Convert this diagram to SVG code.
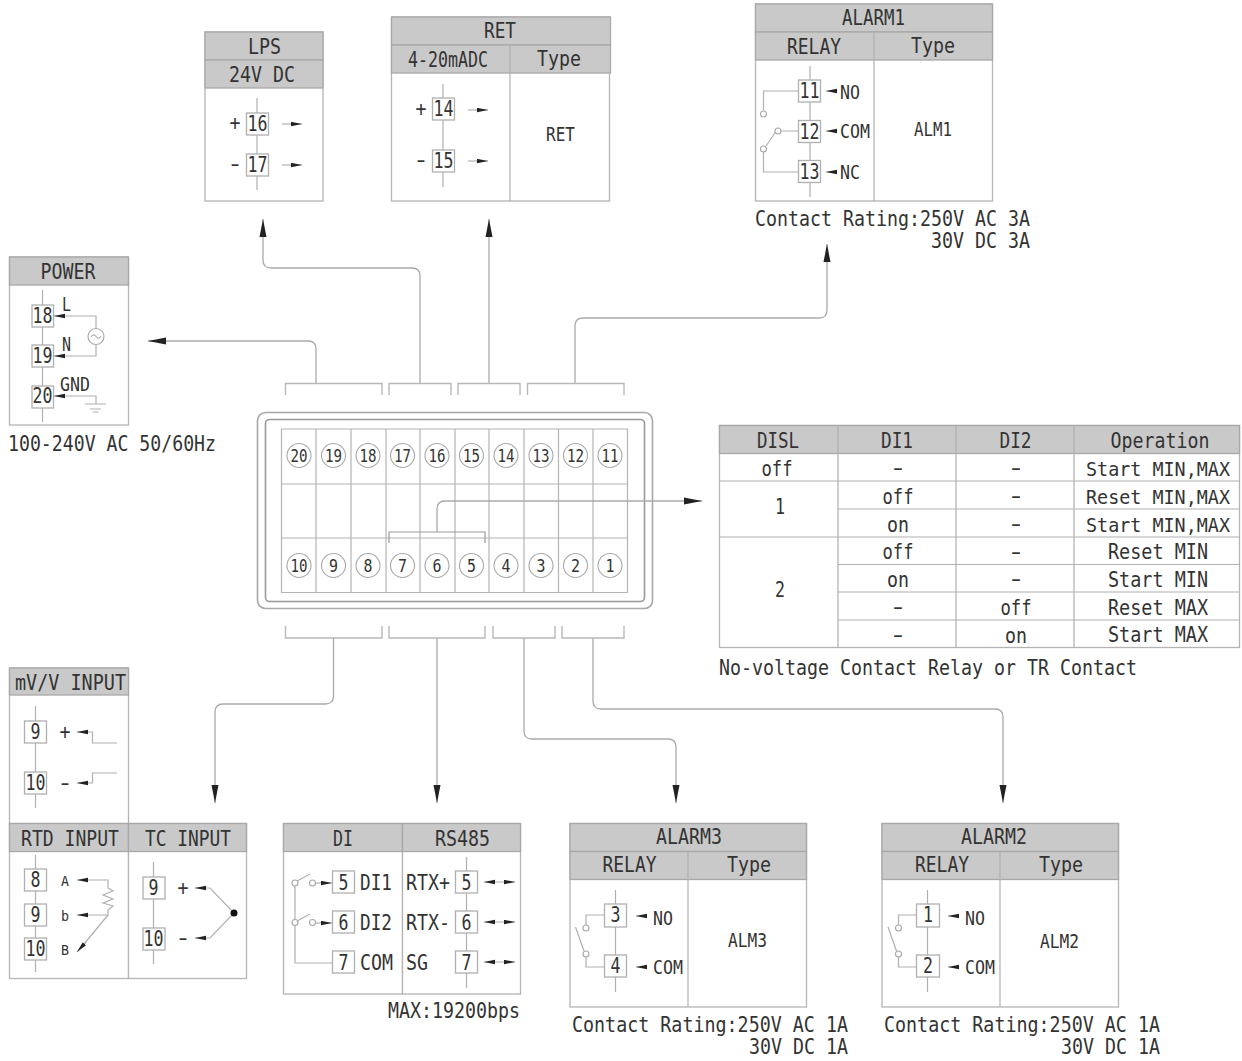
<svg xmlns="http://www.w3.org/2000/svg" width="1242" height="1061" viewBox="0 0 1242 1061">
<style>
text{font-family:"DejaVu Sans Mono","Liberation Mono",monospace;font-size:21px;fill:#333;text-anchor:middle}
.s{font-size:19px}
.xs{font-size:14px}
.pn{font-size:17px}
.op{font-size:20px}
.l{text-anchor:start}
.e{text-anchor:end}
.box{fill:#fff;stroke:#b4b4b4;stroke-width:1.3}
.hd{fill:#c9c9c9;stroke:#a8a8a8;stroke-width:1.3}
.w{fill:none;stroke:#b0b0b0;stroke-width:1.2}
.tm{fill:#fff;stroke:#b0b0b0;stroke-width:1.3}
.a{fill:none;stroke:#b0b0b0;stroke-width:1.2;marker-end:url(#sa)}
.ca{fill:none;stroke:#aaa;stroke-width:1.3;marker-end:url(#ba)}
.br{fill:none;stroke:#b8b8b8;stroke-width:1.4}
.o{fill:#fff;stroke:#a8a8a8;stroke-width:1.1}
</style>
<defs>
<marker id="ba" markerUnits="userSpaceOnUse" markerWidth="20" markerHeight="10" refX="18" refY="4" orient="auto"><path d="M0 0.5 L18 4 L0 7.5Z" fill="#222"/></marker>
<marker id="sa" markerUnits="userSpaceOnUse" markerWidth="12" markerHeight="6" refX="11" refY="2.5" orient="auto"><path d="M0 0.3 L11 2.5 L0 4.7Z" fill="#222"/></marker>
</defs>

<g id="panel">
<rect x="257.500" y="412.500" width="395" height="196" rx="8" fill="#fff" stroke="#a8a8a8" stroke-width="1.6"/>
<rect x="265.500" y="419.500" width="379" height="182" rx="4" fill="#fff" stroke="#989898" stroke-width="1.6"/>
<path class="w" style="stroke:#b4b4b4" d="M281.500 429H627.500V592.500H281.500ZM316 429V592.500M351 429V592.500M386 429V592.500M420 429V592.500M455 429V592.500M489 429V592.500M524 429V592.500M558.500 429V592.500M593 429V592.500M281.500 484H627.500M281.500 538H627.500"/>
<path class="w" style="stroke:#999" d="M389 543V532H485V543"/>
<g id="pins-top">
<circle class="o" cx="299" cy="455.500" r="12"/><circle class="o" cx="333.500" cy="455.500" r="12"/><circle class="o" cx="368" cy="455.500" r="12"/><circle class="o" cx="402.500" cy="455.500" r="12"/><circle class="o" cx="437" cy="455.500" r="12"/><circle class="o" cx="471.500" cy="455.500" r="12"/><circle class="o" cx="506" cy="455.500" r="12"/><circle class="o" cx="541" cy="455.500" r="12"/><circle class="o" cx="575.500" cy="455.500" r="12"/><circle class="o" cx="610" cy="455.500" r="12"/>
<text class="pn" x="299" y="462" textLength="17" lengthAdjust="spacingAndGlyphs">20</text>
<text class="pn" x="333.500" y="462" textLength="17" lengthAdjust="spacingAndGlyphs">19</text>
<text class="pn" x="368" y="462" textLength="17" lengthAdjust="spacingAndGlyphs">18</text>
<text class="pn" x="402.500" y="462" textLength="17" lengthAdjust="spacingAndGlyphs">17</text>
<text class="pn" x="437" y="462" textLength="17" lengthAdjust="spacingAndGlyphs">16</text>
<text class="pn" x="471.500" y="462" textLength="17" lengthAdjust="spacingAndGlyphs">15</text>
<text class="pn" x="506" y="462" textLength="17" lengthAdjust="spacingAndGlyphs">14</text>
<text class="pn" x="541" y="462" textLength="17" lengthAdjust="spacingAndGlyphs">13</text>
<text class="pn" x="575.500" y="462" textLength="17" lengthAdjust="spacingAndGlyphs">12</text>
<text class="pn" x="610" y="462" textLength="17" lengthAdjust="spacingAndGlyphs">11</text>
</g>
<g id="pins-bottom">
<circle class="o" cx="299" cy="565.500" r="12"/><circle class="o" cx="333.500" cy="565.500" r="12"/><circle class="o" cx="368" cy="565.500" r="12"/><circle class="o" cx="402.500" cy="565.500" r="12"/><circle class="o" cx="437" cy="565.500" r="12"/><circle class="o" cx="471.500" cy="565.500" r="12"/><circle class="o" cx="506" cy="565.500" r="12"/><circle class="o" cx="541" cy="565.500" r="12"/><circle class="o" cx="575.500" cy="565.500" r="12"/><circle class="o" cx="610" cy="565.500" r="12"/>
<text class="pn" x="299" y="572" textLength="17" lengthAdjust="spacingAndGlyphs">10</text>
<text class="pn" x="333.500" y="572" textLength="9" lengthAdjust="spacingAndGlyphs">9</text>
<text class="pn" x="368" y="572" textLength="9" lengthAdjust="spacingAndGlyphs">8</text>
<text class="pn" x="402.500" y="572" textLength="9" lengthAdjust="spacingAndGlyphs">7</text>
<text class="pn" x="437" y="572" textLength="9" lengthAdjust="spacingAndGlyphs">6</text>
<text class="pn" x="471.500" y="572" textLength="9" lengthAdjust="spacingAndGlyphs">5</text>
<text class="pn" x="506" y="572" textLength="9" lengthAdjust="spacingAndGlyphs">4</text>
<text class="pn" x="541" y="572" textLength="9" lengthAdjust="spacingAndGlyphs">3</text>
<text class="pn" x="575.500" y="572" textLength="9" lengthAdjust="spacingAndGlyphs">2</text>
<text class="pn" x="610" y="572" textLength="9" lengthAdjust="spacingAndGlyphs">1</text>
</g>
</g>

<g id="connectors">
<path class="ca" d="M316 383V349Q316 341 308 341H148"/>
<path class="ca" d="M420 383V276Q420 268 412 268H271Q263 268 263 260V219"/>
<path class="ca" d="M489 383V219"/>
<path class="ca" d="M575 383V326Q575 318 583 318H819Q827 318 827 310V244"/>
<path class="ca" d="M437 532V509Q437 501 445 501H702"/>
<path class="ca" d="M333.500 638V696Q333.500 704 325 704H223Q215 704 215 712V803"/>
<path class="ca" d="M437 638V803"/>
<path class="ca" d="M524 638V731Q524 739 532 739H668Q676 739 676 747V803"/>
<path class="ca" d="M593 638V701Q593 709 601 709H995Q1003 709 1003 717V803"/>
<path class="br" d="M285.500 395V383.500H382V395M389 395V383.500H451V395M458 395V383.500H520V395M527.500 395V383.500H624V395"/>
<path class="br" d="M285.500 626V638H382V626M389 626V638H485V626M493 626V638H555V626M562 626V638H624V626"/>
</g>

<g id="lps">
<rect class="box" x="205" y="32" width="118" height="169"/>
<rect class="hd" x="205" y="32" width="118" height="28"/><rect class="hd" x="205" y="60" width="118" height="28"/>
<text x="264.500" y="54" textLength="33" lengthAdjust="spacingAndGlyphs">LPS</text>
<text x="262" y="82" textLength="66" lengthAdjust="spacingAndGlyphs">24V DC</text>
<path class="w" d="M257 98V190"/>
<rect class="tm" x="246.500" y="113" width="22" height="22"/><rect class="tm" x="246.500" y="154" width="22" height="22"/>
<text x="257.500" y="131" textLength="20" lengthAdjust="spacingAndGlyphs">16</text>
<text x="257.500" y="172" textLength="20" lengthAdjust="spacingAndGlyphs">17</text>
<text x="235" y="130" textLength="11" lengthAdjust="spacingAndGlyphs">+</text>
<text x="235" y="171" textLength="16" lengthAdjust="spacingAndGlyphs">-</text>
<path class="a" d="M282 124H302"/><path class="a" d="M282 165H302"/>
</g>

<g id="ret">
<rect class="box" x="391.500" y="17" width="218" height="184"/>
<rect class="hd" x="391.500" y="17" width="219" height="28"/><rect class="hd" x="391.500" y="45" width="219" height="28"/>
<path class="w" d="M510 45V201"/>
<text x="500" y="38" textLength="32" lengthAdjust="spacingAndGlyphs">RET</text>
<text x="448" y="67" textLength="80" lengthAdjust="spacingAndGlyphs">4-20mADC</text>
<text x="559" y="66" textLength="44" lengthAdjust="spacingAndGlyphs">Type</text>
<path class="w" d="M443 84V187"/>
<rect class="tm" x="432.500" y="98" width="22" height="22"/><rect class="tm" x="432.500" y="150" width="22" height="22"/>
<text x="443.500" y="116" textLength="20" lengthAdjust="spacingAndGlyphs">14</text>
<text x="443.500" y="168" textLength="20" lengthAdjust="spacingAndGlyphs">15</text>
<text x="421" y="116" textLength="11" lengthAdjust="spacingAndGlyphs">+</text>
<text x="421" y="167" textLength="16" lengthAdjust="spacingAndGlyphs">-</text>
<path class="a" d="M468 110H488"/><path class="a" d="M468 161H488"/>
<text class="s" x="560.500" y="141" textLength="29" lengthAdjust="spacingAndGlyphs">RET</text>
</g>

<g id="alarm1">
<rect class="box" x="755.500" y="4" width="237" height="197"/>
<rect class="hd" x="755.500" y="4" width="237" height="28"/><rect class="hd" x="755.500" y="32" width="237" height="28"/>
<path class="w" d="M874 32V201"/>
<text x="873.500" y="25" textLength="63" lengthAdjust="spacingAndGlyphs">ALARM1</text>
<text x="814" y="54" textLength="54" lengthAdjust="spacingAndGlyphs">RELAY</text>
<text x="933" y="53" textLength="44" lengthAdjust="spacingAndGlyphs">Type</text>
<path class="w" d="M810 66V197M798 91H763.500V110M798 131H781M775 133L766 146M763.500 152V172H798"/>
<circle class="o" cx="763.500" cy="114" r="3"/><circle class="o" cx="778" cy="131" r="3"/><circle class="o" cx="763.500" cy="149" r="3"/>
<rect class="tm" x="798.500" y="80" width="22" height="22"/><rect class="tm" x="798.500" y="120.500" width="22" height="22"/><rect class="tm" x="798.500" y="160.500" width="22" height="22"/>
<text x="809.500" y="98" textLength="20" lengthAdjust="spacingAndGlyphs">11</text>
<text x="809.500" y="139" textLength="20" lengthAdjust="spacingAndGlyphs">12</text>
<text x="809.500" y="179" textLength="20" lengthAdjust="spacingAndGlyphs">13</text>
<path class="a" d="M836 91H826"/><path class="a" d="M836 131H826"/><path class="a" d="M836 172H826"/>
<text class="s l" x="840" y="99" textLength="20" lengthAdjust="spacingAndGlyphs">NO</text>
<text class="s l" x="840" y="138" textLength="30" lengthAdjust="spacingAndGlyphs">COM</text>
<text class="s l" x="840" y="179" textLength="20" lengthAdjust="spacingAndGlyphs">NC</text>
<text class="s" x="933" y="136" textLength="38" lengthAdjust="spacingAndGlyphs">ALM1</text>
<text class="l" x="755" y="226" textLength="275" lengthAdjust="spacingAndGlyphs">Contact Rating:250V AC 3A</text>
<text class="e" x="1030" y="248" textLength="99" lengthAdjust="spacingAndGlyphs">30V DC 3A</text>
</g>

<g id="power">
<rect class="box" x="9.500" y="257" width="119" height="168"/>
<rect class="hd" x="9.500" y="257" width="119" height="28"/>
<text x="68" y="279" textLength="55" lengthAdjust="spacingAndGlyphs">POWER</text>
<path class="w" d="M42.500 290V422M64 316H96V329M96 344V356H64M64 396H96V404M85 404H106M90 409H101M92.500 412H98.500"/>
<circle cx="96" cy="336.500" r="8" fill="#fff" stroke="#aaa" stroke-width="1.2"/>
<path class="w" d="M91 337Q93.500 333 96 336.500T101 336"/>
<path class="a" d="M64 316H54"/><path class="a" d="M64 356H54"/><path class="a" d="M64 396H54"/>
<rect class="tm" x="32" y="305" width="21.500" height="22"/><rect class="tm" x="32" y="345" width="21.500" height="22"/><rect class="tm" x="32" y="386" width="21.500" height="22"/>
<text x="42.500" y="323" textLength="20" lengthAdjust="spacingAndGlyphs">18</text>
<text x="42.500" y="363" textLength="20" lengthAdjust="spacingAndGlyphs">19</text>
<text x="42.500" y="403" textLength="20" lengthAdjust="spacingAndGlyphs">20</text>
<text class="s l" x="62" y="311" textLength="9" lengthAdjust="spacingAndGlyphs">L</text>
<text class="s l" x="62" y="351" textLength="9" lengthAdjust="spacingAndGlyphs">N</text>
<text class="s l" x="60" y="391" textLength="30" lengthAdjust="spacingAndGlyphs">GND</text>
<text class="l" x="8" y="451" textLength="208" lengthAdjust="spacingAndGlyphs">100-240V AC 50/60Hz</text>
</g>

<g id="disl-table">
<rect class="box" x="719.500" y="425.500" width="520" height="222"/>
<rect class="hd" x="719.500" y="425.500" width="520" height="28"/>
<path class="w" d="M838 425.500V647.500M956 425.500V647.500M1074 425.500V647.500M719.500 481H1239.500M838 509H1239.500M719.500 537H1239.500M838 564.500H1239.500M838 592H1239.500M838 620H1239.500"/>
<text x="778" y="448" textLength="42" lengthAdjust="spacingAndGlyphs">DISL</text>
<text x="897" y="448" textLength="32" lengthAdjust="spacingAndGlyphs">DI1</text>
<text x="1015.500" y="448" textLength="32" lengthAdjust="spacingAndGlyphs">DI2</text>
<text x="1160" y="448" textLength="99" lengthAdjust="spacingAndGlyphs">Operation</text>
<text x="777" y="476" textLength="31" lengthAdjust="spacingAndGlyphs">off</text>
<text x="898" y="475" textLength="18" lengthAdjust="spacingAndGlyphs">-</text>
<text x="1016" y="475" textLength="18" lengthAdjust="spacingAndGlyphs">-</text>
<text class="op" x="1158" y="476" textLength="144" lengthAdjust="spacingAndGlyphs">Start MIN,MAX</text>
<text x="780" y="514" textLength="10" lengthAdjust="spacingAndGlyphs">1</text>
<text x="898" y="504" textLength="31" lengthAdjust="spacingAndGlyphs">off</text>
<text x="1016" y="503" textLength="18" lengthAdjust="spacingAndGlyphs">-</text>
<text class="op" x="1158" y="504" textLength="144" lengthAdjust="spacingAndGlyphs">Reset MIN,MAX</text>
<text x="898" y="532" textLength="22" lengthAdjust="spacingAndGlyphs">on</text>
<text x="1016" y="531" textLength="18" lengthAdjust="spacingAndGlyphs">-</text>
<text class="op" x="1158" y="532" textLength="144" lengthAdjust="spacingAndGlyphs">Start MIN,MAX</text>
<text x="780" y="597" textLength="10" lengthAdjust="spacingAndGlyphs">2</text>
<text x="898" y="559" textLength="31" lengthAdjust="spacingAndGlyphs">off</text>
<text x="1016" y="559" textLength="18" lengthAdjust="spacingAndGlyphs">-</text>
<text x="1158" y="559" textLength="100" lengthAdjust="spacingAndGlyphs">Reset MIN</text>
<text x="898" y="587" textLength="22" lengthAdjust="spacingAndGlyphs">on</text>
<text x="1016" y="586" textLength="18" lengthAdjust="spacingAndGlyphs">-</text>
<text x="1158" y="587" textLength="100" lengthAdjust="spacingAndGlyphs">Start MIN</text>
<text x="898" y="614" textLength="18" lengthAdjust="spacingAndGlyphs">-</text>
<text x="1016" y="615" textLength="31" lengthAdjust="spacingAndGlyphs">off</text>
<text x="1158" y="615" textLength="100" lengthAdjust="spacingAndGlyphs">Reset MAX</text>
<text x="898" y="642" textLength="18" lengthAdjust="spacingAndGlyphs">-</text>
<text x="1016" y="643" textLength="22" lengthAdjust="spacingAndGlyphs">on</text>
<text x="1158" y="642" textLength="100" lengthAdjust="spacingAndGlyphs">Start MAX</text>
<text class="l" x="719" y="675" textLength="418" lengthAdjust="spacingAndGlyphs">No-voltage Contact Relay or TR Contact</text>
</g>

<g id="mv-input">
<rect class="box" x="9.500" y="668" width="119" height="156"/>
<rect class="hd" x="9.500" y="668" width="119" height="27"/>
<text x="70.500" y="690" textLength="111" lengthAdjust="spacingAndGlyphs">mV/V INPUT</text>
<path class="w" d="M35.500 706V808M87 732H92.500V743H117M87 783H92.500V773H117"/>
<rect class="tm" x="24.500" y="721" width="22" height="22"/><rect class="tm" x="24.500" y="772" width="22" height="22"/>
<text x="35.500" y="739" textLength="10" lengthAdjust="spacingAndGlyphs">9</text>
<text x="35.500" y="790" textLength="20" lengthAdjust="spacingAndGlyphs">10</text>
<text x="65" y="739" textLength="11" lengthAdjust="spacingAndGlyphs">+</text>
<text x="65" y="790" textLength="16" lengthAdjust="spacingAndGlyphs">-</text>
<path class="a" d="M87 732H77"/><path class="a" d="M87 783H77"/>
</g>

<g id="rtd-input">
<rect class="box" x="9.500" y="823.500" width="119" height="155"/>
<rect class="hd" x="9.500" y="823.500" width="119" height="28"/>
<text x="70" y="846" textLength="98" lengthAdjust="spacingAndGlyphs">RTD INPUT</text>
<path class="w" d="M35.500 855V972M87 880H108V888L113 891L103 895L113 899L103 903L113 906L108 910V915H87M108 915L84 944"/>
<path class="a" d="M87 880H77"/><path class="a" d="M87 915H77"/><path class="a" d="M86 942L77 952"/>
<rect class="tm" x="24.500" y="869" width="22" height="22"/><rect class="tm" x="24.500" y="904" width="22" height="22"/><rect class="tm" x="24.500" y="938" width="22" height="22"/>
<text x="35.500" y="887" textLength="10" lengthAdjust="spacingAndGlyphs">8</text>
<text x="35.500" y="922" textLength="10" lengthAdjust="spacingAndGlyphs">9</text>
<text x="35.500" y="956" textLength="20" lengthAdjust="spacingAndGlyphs">10</text>
<text class="xs" x="65" y="886" textLength="8" lengthAdjust="spacingAndGlyphs">A</text>
<text class="xs" x="65" y="921" textLength="8" lengthAdjust="spacingAndGlyphs">b</text>
<text class="xs" x="65" y="955" textLength="8" lengthAdjust="spacingAndGlyphs">B</text>
</g>

<g id="tc-input">
<rect class="box" x="128.500" y="823.500" width="118" height="155"/>
<rect class="hd" x="128.500" y="823.500" width="118" height="28"/>
<text x="188" y="846" textLength="86" lengthAdjust="spacingAndGlyphs">TC INPUT</text>
<path class="w" d="M153.500 862V964M205 888H210L234 913L210 938H205"/>
<path class="a" d="M205 888H195"/><path class="a" d="M205 938H195"/>
<circle cx="234" cy="913" r="3.500" fill="#111"/>
<rect class="tm" x="143" y="877" width="22" height="22"/><rect class="tm" x="143" y="928" width="22" height="22"/>
<text x="153.500" y="895" textLength="10" lengthAdjust="spacingAndGlyphs">9</text>
<text x="153.500" y="946" textLength="20" lengthAdjust="spacingAndGlyphs">10</text>
<text x="183" y="895" textLength="11" lengthAdjust="spacingAndGlyphs">+</text>
<text x="183" y="945" textLength="16" lengthAdjust="spacingAndGlyphs">-</text>
</g>

<g id="di">
<rect class="box" x="283.500" y="823.500" width="119" height="170.500"/>
<rect class="hd" x="283.500" y="823.500" width="119" height="28"/>
<text x="343" y="846" textLength="20" lengthAdjust="spacingAndGlyphs">DI</text>
<path class="w" d="M297 881L310 874M297 921L310 914M295 886V963H332"/>
<circle class="o" cx="295" cy="883" r="3"/><circle class="o" cx="312.500" cy="883" r="3"/><circle class="o" cx="295" cy="922.500" r="3"/><circle class="o" cx="312.500" cy="922.500" r="3"/>
<path class="a" d="M316 883H332"/><path class="a" d="M316 923H332"/>
<rect class="tm" x="332.500" y="871" width="22" height="22"/><rect class="tm" x="332.500" y="911" width="22" height="22"/><rect class="tm" x="332.500" y="951" width="22" height="22"/>
<text x="343.500" y="890" textLength="10" lengthAdjust="spacingAndGlyphs">5</text>
<text x="343.500" y="930" textLength="10" lengthAdjust="spacingAndGlyphs">6</text>
<text x="343.500" y="970" textLength="10" lengthAdjust="spacingAndGlyphs">7</text>
<text class="l" x="360" y="890" textLength="32" lengthAdjust="spacingAndGlyphs">DI1</text>
<text class="l" x="360" y="930" textLength="32" lengthAdjust="spacingAndGlyphs">DI2</text>
<text class="l" x="360" y="970" textLength="33" lengthAdjust="spacingAndGlyphs">COM</text>
</g>

<g id="rs485">
<rect class="box" x="402.500" y="823.500" width="118" height="170.500"/>
<rect class="hd" x="402.500" y="823.500" width="118" height="28"/>
<text x="462.500" y="846" textLength="55" lengthAdjust="spacingAndGlyphs">RS485</text>
<path class="w" d="M466.500 857V988M494 882H505M494 922H505M494 962H505"/>
<path class="a" d="M494 882H484"/><path class="a" d="M505 882H515"/><path class="a" d="M494 922H484"/><path class="a" d="M505 922H515"/><path class="a" d="M494 962H484"/><path class="a" d="M505 962H515"/>
<rect class="tm" x="455.500" y="871" width="22" height="22"/><rect class="tm" x="455.500" y="911" width="22" height="22"/><rect class="tm" x="455.500" y="951" width="22" height="22"/>
<text x="466.500" y="890" textLength="10" lengthAdjust="spacingAndGlyphs">5</text>
<text x="466.500" y="930" textLength="10" lengthAdjust="spacingAndGlyphs">6</text>
<text x="466.500" y="970" textLength="10" lengthAdjust="spacingAndGlyphs">7</text>
<text class="l" x="406" y="890" textLength="44" lengthAdjust="spacingAndGlyphs">RTX+</text>
<text class="l" x="406" y="930" textLength="44" lengthAdjust="spacingAndGlyphs">RTX-</text>
<text class="l" x="406" y="970" textLength="22" lengthAdjust="spacingAndGlyphs">SG</text>
<text class="e" x="520" y="1018" textLength="132" lengthAdjust="spacingAndGlyphs">MAX:19200bps</text>
</g>

<g id="alarm3">
<rect class="box" x="570" y="823.500" width="236.500" height="183.500"/>
<rect class="hd" x="570" y="823.500" width="236.500" height="28"/><rect class="hd" x="570" y="851.500" width="236.500" height="28"/>
<path class="w" d="M688 851.500V1007"/>
<text x="689" y="844" textLength="66" lengthAdjust="spacingAndGlyphs">ALARM3</text>
<text x="629.500" y="872" textLength="54" lengthAdjust="spacingAndGlyphs">RELAY</text>
<text x="749" y="872" textLength="44" lengthAdjust="spacingAndGlyphs">Type</text>
<path class="w" d="M615.500 890V992M604 915H586V925M575.500 927L584 951M586 957V967H604"/>
<circle class="o" cx="586" cy="928" r="3"/><circle class="o" cx="586" cy="954" r="3"/>
<rect class="tm" x="604.500" y="904" width="22" height="23"/><rect class="tm" x="604.500" y="955" width="22" height="22"/>
<text x="615.500" y="922" textLength="10" lengthAdjust="spacingAndGlyphs">3</text>
<text x="615.500" y="973" textLength="10" lengthAdjust="spacingAndGlyphs">4</text>
<path class="a" d="M646 916H636"/><path class="a" d="M646 967H636"/>
<text class="s l" x="653" y="925" textLength="20" lengthAdjust="spacingAndGlyphs">NO</text>
<text class="s l" x="653" y="974" textLength="30" lengthAdjust="spacingAndGlyphs">COM</text>
<text class="s" x="747.500" y="947" textLength="39" lengthAdjust="spacingAndGlyphs">ALM3</text>
<text class="l" x="572" y="1032" textLength="276" lengthAdjust="spacingAndGlyphs">Contact Rating:250V AC 1A</text>
<text class="e" x="848" y="1054" textLength="99" lengthAdjust="spacingAndGlyphs">30V DC 1A</text>
</g>

<g id="alarm2">
<rect class="box" x="882" y="823.500" width="236.500" height="183.500"/>
<rect class="hd" x="882" y="823.500" width="236.500" height="28"/><rect class="hd" x="882" y="851.500" width="236.500" height="28"/>
<path class="w" d="M1000 851.500V1007"/>
<text x="994" y="844" textLength="66" lengthAdjust="spacingAndGlyphs">ALARM2</text>
<text x="942" y="872" textLength="54" lengthAdjust="spacingAndGlyphs">RELAY</text>
<text x="1061" y="872" textLength="44" lengthAdjust="spacingAndGlyphs">Type</text>
<path class="w" d="M927.500 890V992M916 915H898.500V925M888 927L896.500 951M898.500 957V967H916"/>
<circle class="o" cx="898.500" cy="928" r="3"/><circle class="o" cx="898.500" cy="954" r="3"/>
<rect class="tm" x="916.500" y="904" width="23" height="23"/><rect class="tm" x="916.500" y="955" width="23" height="22"/>
<text x="928" y="922" textLength="10" lengthAdjust="spacingAndGlyphs">1</text>
<text x="928" y="973" textLength="10" lengthAdjust="spacingAndGlyphs">2</text>
<path class="a" d="M958 916H948"/><path class="a" d="M958 967H948"/>
<text class="s l" x="965" y="925" textLength="20" lengthAdjust="spacingAndGlyphs">NO</text>
<text class="s l" x="965" y="974" textLength="30" lengthAdjust="spacingAndGlyphs">COM</text>
<text class="s" x="1059.500" y="948" textLength="39" lengthAdjust="spacingAndGlyphs">ALM2</text>
<text class="l" x="884" y="1032" textLength="276" lengthAdjust="spacingAndGlyphs">Contact Rating:250V AC 1A</text>
<text class="e" x="1160" y="1054" textLength="99" lengthAdjust="spacingAndGlyphs">30V DC 1A</text>
</g>
</svg>
